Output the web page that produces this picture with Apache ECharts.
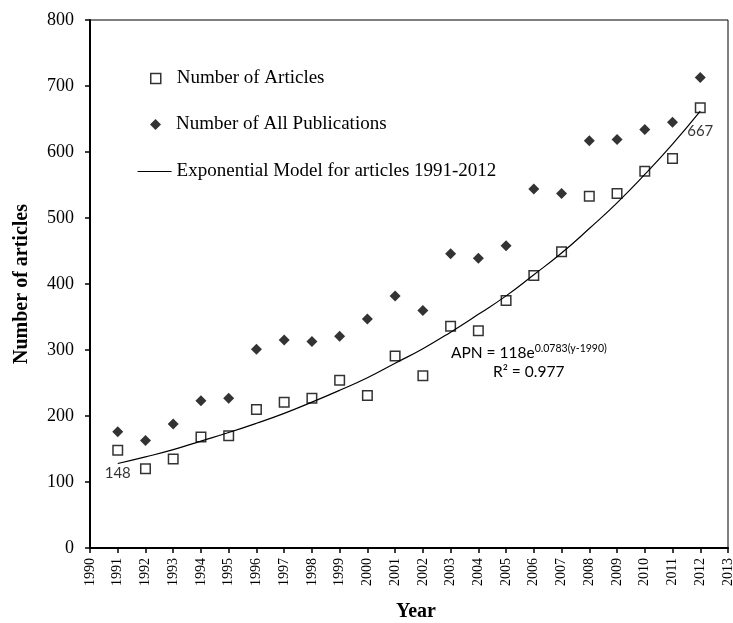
<!DOCTYPE html>
<html>
<head>
<meta charset="utf-8">
<script src="https://cdn.jsdelivr.net/npm/echarts@6/dist/echarts.min.js"></script>
<style>
html,body{margin:0;padding:0;background:#fff;}
#chart{width:733px;height:623px;}
</style>
</head>
<body>
<div id="chart"></div>
<script>
// ---- data ----
var years = [1991,1992,1993,1994,1995,1996,1997,1998,1999,2000,2001,2002,2003,2004,2005,2006,2007,2008,2009,2010,2011,2012];
var articles = [148,120,135,168,170,210,221,227,254,231,291,261,336,329,375,413,449,533,537,571,590,667];
var allPublications = [176,163,188,223,227,301,315,313,321,347,382,360,446,439,458,544,537,617,619,634,645,713];
var modelCurve = [128,138,149,162,175,189,204,221,239,258,280,302,327,354,382,414,447,484,523,566,612,662];
var xRange = [1990, 2013];
var yRange = [0, 800];
var seriesNames = ['Number of Articles', 'Number of All Publications', 'Exponential Model for articles 1991-2012'];
var equationText = 'APN = 118e';
var equationExp = '0.0783(y-1990)';
var r2Text = 'R\u00B2 = 0.977';

var serif = '"Liberation Serif", "Times New Roman", serif';
var sans = 'Lato, "Open Sans", sans-serif';

function pairs(vals, labelIdx) {
  return years.map(function (y, i) {
    var item = { value: [y, vals[i]] };
    if (labelIdx && labelIdx.indexOf(i) >= 0) {
      item.label = { show: true, formatter: String(vals[i]) };
    }
    return item;
  });
}

var chart = echarts.init(document.getElementById('chart'));
var legendText = { fontFamily: serif, fontSize: 19, color: '#000' };
chart.setOption({
  animation: false,
  backgroundColor: '#fff',
  grid: { left: 90, right: 5, top: 20, bottom: 75, show: true, borderColor: '#000', borderWidth: 1,
          containLabel: false, outerBoundsMode: 'none' },
  legend: [
    {
      orient: 'vertical', selectedMode: false,
      data: [seriesNames[0]], left: 145, top: 64, itemWidth: 10, itemHeight: 10,
      itemStyle: { color: '#fff', borderColor: '#000', borderWidth: 1.5 },
      textStyle: Object.assign({ padding: [0, 0, 0, 11] }, legendText)
    },
    {
      orient: 'vertical', selectedMode: false,
      data: [seriesNames[1]], left: 145, top: 110, itemWidth: 11, itemHeight: 11,
      itemStyle: { color: '#000', borderWidth: 0 },
      textStyle: Object.assign({ padding: [0, 0, 0, 10] }, legendText)
    },
    {
      orient: 'vertical', selectedMode: false,
      data: [seriesNames[2]], left: 132, top: 157, itemWidth: 34, itemHeight: 10,
      itemStyle: { color: 'rgba(0,0,0,0)', borderWidth: 0, opacity: 0 },
      lineStyle: { color: '#000', width: 1.2 },
      textStyle: legendText
    }
  ],
  xAxis: {
    type: 'value', min: xRange[0], max: xRange[1], interval: 1,
    name: 'Year', nameLocation: 'middle', nameGap: 54,
    nameTextStyle: { fontFamily: serif, fontSize: 20, fontWeight: 'bold', color: '#000', padding: [0, 0, 0, 14] },
    axisLine: { lineStyle: { color: '#000', width: 2 } },
    axisTick: { show: true, inside: false, length: 5, lineStyle: { color: '#000', width: 1.5 } },
    axisLabel: { rotate: 90, margin: 10, fontFamily: serif, fontSize: 14, color: '#000', formatter: function (v) { return String(v); } },
    splitLine: { show: false }
  },
  yAxis: {
    type: 'value', min: yRange[0], max: yRange[1], interval: 100,
    name: 'Number of articles', nameLocation: 'middle', nameGap: 58,
    nameTextStyle: { fontFamily: serif, fontSize: 20, fontWeight: 'bold', color: '#000' },
    axisLine: { show: true, lineStyle: { color: '#000', width: 2 } },
    axisTick: { show: true, inside: false, length: 5, lineStyle: { color: '#000', width: 1.5 } },
    axisLabel: { margin: 16, fontFamily: serif, fontSize: 18, color: '#000' },
    splitLine: { show: false }
  },
  series: [
    {
      name: seriesNames[0], type: 'scatter', symbol: 'rect', symbolSize: 9.5, z: 3,
      itemStyle: { color: '#fff', borderColor: '#000', borderWidth: 1.5 },
      label: { position: 'bottom', distance: 10, fontFamily: sans, fontSize: 15, color: '#000' },
      data: pairs(articles, [0, articles.length - 1])
    },
    {
      name: seriesNames[1], type: 'scatter', symbol: 'diamond', symbolSize: [11, 11], z: 3,
      itemStyle: { color: '#000' },
      data: pairs(allPublications)
    },
    {
      name: seriesNames[2], type: 'line', smooth: true, symbol: 'none', z: 4,
      itemStyle: { color: '#000' },
      lineStyle: { color: '#000', width: 1.2 },
      data: pairs(modelCurve)
    }
  ],
  graphic: [
    {
      type: 'text', left: 451, top: 343, z: 10,
      style: {
        text: '{a|' + equationText + '}{s|' + equationExp + '}',
        rich: {
          a: { fontFamily: sans, fontSize: 15.5, fill: '#000', lineHeight: 20 },
          s: { fontFamily: sans, fontSize: 10.5, fill: '#000', lineHeight: 20, verticalAlign: 'top' }
        }
      }
    },
    {
      type: 'text', left: 493, top: 364, z: 10,
      style: { text: r2Text, fontFamily: sans, fontSize: 15.5, fill: '#000' }
    }
  ]
});
</script>
</body>
</html>
